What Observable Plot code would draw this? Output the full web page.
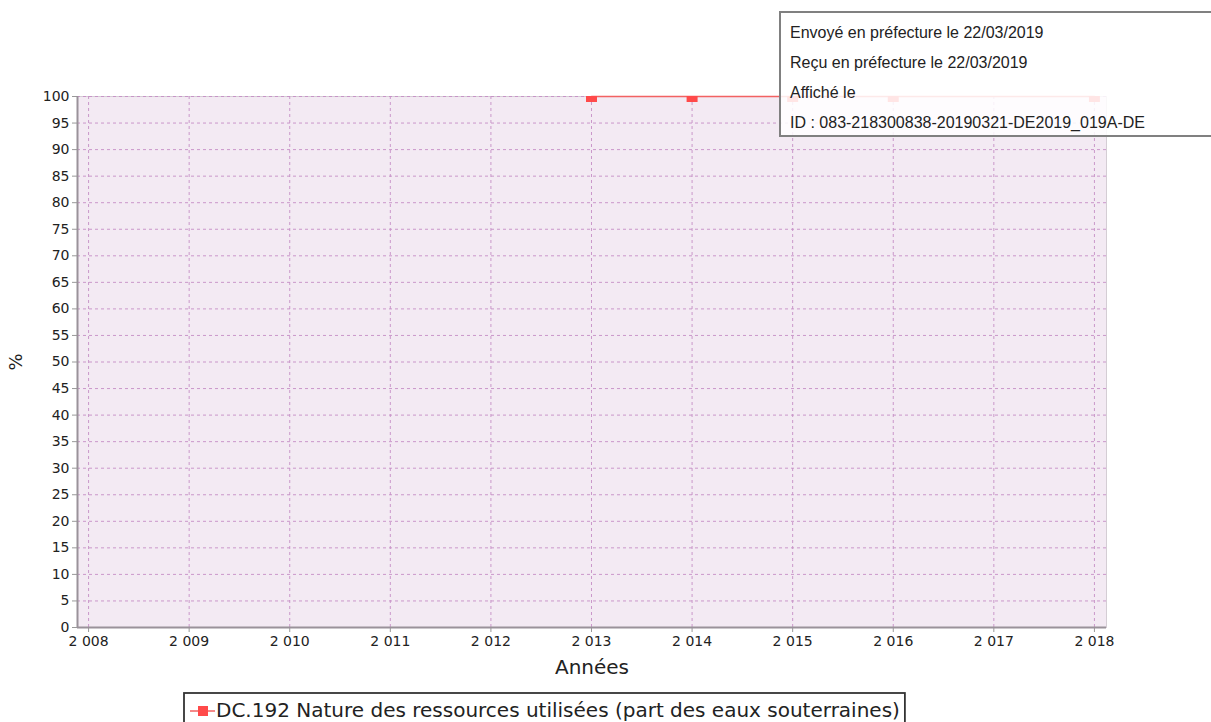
<!DOCTYPE html>
<html>
<head>
<meta charset="utf-8">
<script src="https://cdn.jsdelivr.net/npm/d3@7"></script>
<script src="https://cdn.jsdelivr.net/npm/@observablehq/plot@0.6"></script>
<style>
  html, body { margin: 0; padding: 0; background: #fff; }
  #wrap { position: relative; width: 1211px; height: 722px; overflow: hidden; font-family: "DejaVu Sans", sans-serif; }
  #stamp {
    position: absolute; left: 779px; top: 11px; width: 440px; height: 122px;
    border: 2px solid #808080; background: rgba(255,255,255,0.86);
    font-family: "Liberation Sans", Arial, sans-serif; font-size: 16px; color: #222;
  }
  #stamp div { position: absolute; left: 9px; white-space: nowrap; }
  #legend { position: absolute; left: 0; top: 0; }
</style>
</head>
<body>
<div id="wrap"></div>
<script>
// Series DC.192: share of groundwater in the resources used (%)
const years = [2013, 2014, 2015, 2016, 2018];
const values = [100, 100, 100, 100, 100];
const seriesName = "DC.192 Nature des ressources utilisées (part des eaux souterraines)";

const xTicks = [2008, 2009, 2010, 2011, 2012, 2013, 2014, 2015, 2016, 2017, 2018];
const yTicks = d3.range(0, 101, 5);
const stampLines = [
  "Envoyé en préfecture le 22/03/2019",
  "Reçu en préfecture le 22/03/2019",
  "Affiché le",
  "ID : 083-218300838-20190321-DE2019_019A-DE"
];

const data = years.map((y, i) => ({year: y, value: values[i]}));
const frFormat = d3.formatLocale({decimal: ",", thousands: " ", grouping: [3], currency: ["", " €"]}).format(",d");

const lineColor = "#f26262";
const markColor = "#ff4a4a";
const gridColor = "#c58ec5";

const chart = Plot.plot({
  width: 1211,
  height: 680,
  marginLeft: 77,
  marginRight: 105,
  marginTop: 96,
  marginBottom: 53,
  style: {fontFamily: "DejaVu Sans, sans-serif", fontSize: "14px", color: "#222", background: "transparent", overflow: "visible"},
  x: {domain: [2007.89, 2018.12]},
  y: {domain: [0, 100]},
  marks: [
    Plot.frame({fill: "#f3eaf3", stroke: "#d4cdd4"}),
    Plot.gridX(xTicks, {stroke: gridColor, strokeOpacity: 0.9, strokeDasharray: "3,3", strokeWidth: 1}),
    Plot.gridY(yTicks, {stroke: gridColor, strokeOpacity: 0.9, strokeDasharray: "3,3", strokeWidth: 1}),
    Plot.axisX({ticks: xTicks, tickFormat: frFormat, tickSize: 5, tickPadding: 4, stroke: "#999",
      label: "Années", labelOffset: 46, labelAnchor: "center", labelArrow: "none", fontSize: 14}),
    Plot.axisY({ticks: yTicks, tickSize: 5, tickPadding: 3, stroke: "#999",
      label: "%", labelOffset: 68, labelAnchor: "center", labelArrow: "none", fontSize: 14}),
    Plot.ruleX([2007.89], {stroke: "#9a929a", strokeWidth: 2}),
    Plot.ruleY([0], {stroke: "#9a929a", strokeWidth: 2}),
    Plot.line(data, {x: "year", y: "value", stroke: lineColor, strokeWidth: 1.5}),
    Plot.dot(data, {x: "year", y: "value", symbol: "square", r: 6.2, fill: markColor, stroke: "none", clip: "frame"})
  ]
});

// larger axis titles
chart.querySelectorAll("[aria-label='x-axis label'] text").forEach(t => t.setAttribute("font-size", "20px"));
chart.querySelectorAll("[aria-label='y-axis label'] text").forEach(t => t.setAttribute("font-size", "18px"));

const wrap = document.getElementById("wrap");
wrap.appendChild(chart);

// document stamp overlay
const stamp = document.createElement("div");
stamp.id = "stamp";
stampLines.forEach((s, i) => {
  const d = document.createElement("div");
  d.textContent = s;
  d.style.top = (11 + i * 30) + "px";
  stamp.appendChild(d);
});
wrap.appendChild(stamp);

// legend: boxed line + square swatch and series name
const svgNS = "http://www.w3.org/2000/svg";
const legend = d3.create("svg").attr("id", "legend").attr("width", 1211).attr("height", 722)
  .style("font-family", "DejaVu Sans, sans-serif");
const box = legend.append("rect").attr("x", 184).attr("y", 693).attr("height", 40)
  .attr("fill", "none").attr("stroke", "#333").attr("stroke-width", 1.8);
legend.append("line").attr("x1", 190).attr("x2", 215).attr("y1", 711).attr("y2", 711)
  .attr("stroke", lineColor).attr("stroke-width", 1.5);
legend.append("rect").attr("x", 198).attr("y", 706).attr("width", 10).attr("height", 10).attr("fill", markColor);
const label = legend.append("text").attr("x", 216).attr("y", 717).attr("font-size", 20)
  .attr("fill", "#222").text(seriesName);
wrap.appendChild(legend.node());
box.attr("width", 216 - 184 + label.node().getComputedTextLength() + 5);
</script>
</body>
</html>
